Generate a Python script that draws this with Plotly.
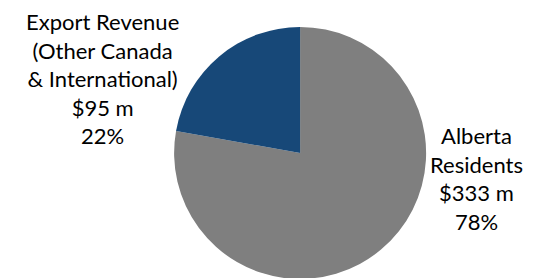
import plotly.graph_objects as go

categories = ["Export Revenue<br>(Other Canada<br>& International)", "Alberta<br>Residents"]
values = [95, 333]  # $ millions
amount_labels = ["$95 m", "$333 m"]
colors = ["#174878", "#7F7F7F"]

W, H = 546, 278
MT = 19

total = sum(values)
pct = [f"{round(v / total * 100)}%" for v in values]

# draw Alberta first, clockwise from 12 o'clock, so Export sits in the upper-left
order = [1, 0]
fig = go.Figure(
    go.Pie(
        labels=[categories[i].replace("<br>", " ") for i in order],
        values=[values[i] for i in order],
        sort=False,
        direction="clockwise",
        rotation=0,
        marker=dict(colors=[colors[i] for i in order], line=dict(width=0)),
        textinfo="none",
        hoverinfo="skip",
        showlegend=False,
        domain=dict(x=[0.285, 0.785], y=[1 - 252 / (H - MT), 1]),
    )
)

# label positions (paper coords)
label_pos = [(94 / W, (H - 70) / (H - MT)), (469 / W, (H - 171) / (H - MT))]

for i, (x, y) in enumerate(label_pos):
    fig.add_annotation(
        x=x, y=y, xref="paper", yref="paper",
        xanchor="center", yanchor="middle",
        text=f"{categories[i]}<br>{amount_labels[i]}<br>{pct[i]}",
        showarrow=False, align="center", borderpad=0,
        font=dict(family="Lato, Carlito, Calibri, sans-serif", size=22, color="#000000"),
    )

fig.update_layout(
    width=W, height=H,
    margin=dict(l=0, r=0, t=MT, b=0),
    paper_bgcolor="white", plot_bgcolor="white",
)

fig.write_html("out.html")
